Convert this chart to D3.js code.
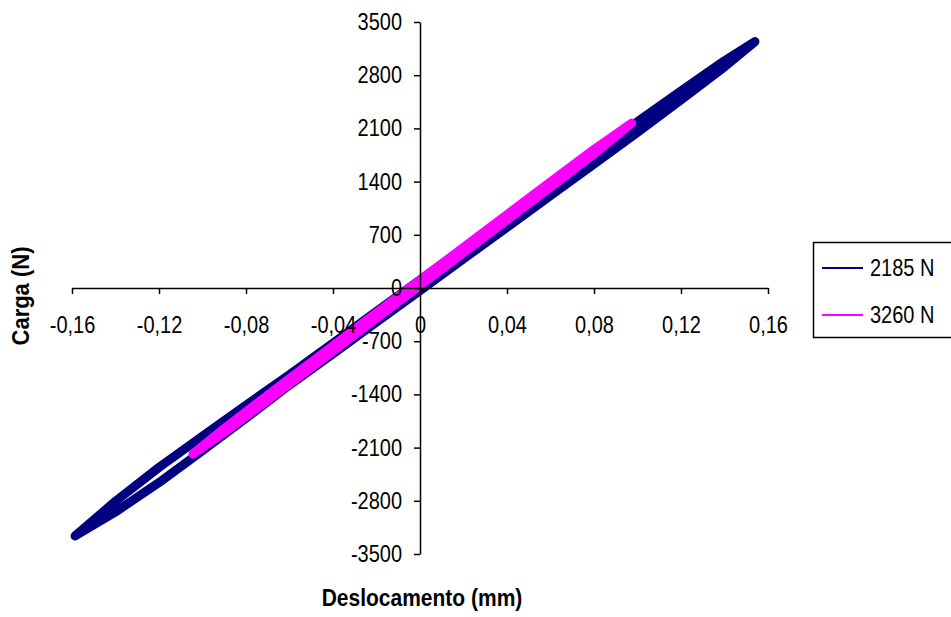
<!DOCTYPE html>
<html>
<head>
<meta charset="utf-8">
<script src="https://cdn.jsdelivr.net/npm/d3@7"></script>
<style>
  body { margin: 0; background: #fff; }
  text { font-family: "Liberation Sans", Arial, sans-serif; }
</style>
</head>
<body>
<div id="chart"></div>
<script>
// tick values
var xTicks = [-0.16, -0.12, -0.08, -0.04, 0, 0.04, 0.08, 0.12, 0.16];
var yTicks = [-3500, -2800, -2100, -1400, -700, 0, 700, 1400, 2100, 2800, 3500];

// series names
var seriesNames = ["2185 N", "3260 N"];

// loop 2185 N : displacement (mm) and load (N), lower branch then upper branch back
var disp2185 = [-0.1586, -0.14, -0.12, -0.10, -0.08, -0.06, -0.04, -0.02, 0, 0.02, 0.04, 0.06, 0.08, 0.10, 0.12, 0.14, 0.154,
  0.14, 0.12, 0.10, 0.08, 0.06, 0.04, 0.02, 0, -0.02, -0.04, -0.06, -0.08, -0.10, -0.12, -0.14, -0.1586];
var load2185 = [-3263, -2946, -2560, -2139, -1712, -1276, -865, -449, -33, 383, 799, 1215, 1631, 2048, 2474, 2910, 3241,
  2990, 2594, 2188, 1771, 1355, 939, 523, 107, -309, -725, -1141, -1542, -1949, -2360, -2806, -3263];

// loop 3260 N
var disp3260 = [-0.1044, -0.09, -0.08, -0.06, -0.04, -0.02, 0, 0.02, 0.04, 0.06, 0.08, 0.0973,
  0.08, 0.06, 0.04, 0.02, 0, -0.02, -0.04, -0.06, -0.08, -0.09, -0.1044];
var load3260 = [-2184, -1898, -1688, -1261, -830, -398, 33, 464, 896, 1327, 1764, 2167,
  1824, 1397, 966, 534, 103, -328, -760, -1191, -1628, -1848, -2184];

var colors = ["#000080", "#ff00ff"];

// the original type is tall and narrow: stretch text vertically
var K = 1.16;
function stretch(sel, k) {
  sel.each(function () {
    var t = d3.select(this);
    var yy = +t.attr("y") || 0;
    t.attr("y", yy / k).attr("transform", "scale(1," + k + ")");
  });
}

function init() {
  var width = 951, height = 617;

  var svg = d3.select("#chart")
    .append("svg")
    .attr("width", width)
    .attr("height", height);

  var x = d3.scaleLinear().domain([-0.16, 0.16]).range([72, 768]);
  var y = d3.scaleLinear().domain([-3500, 3500]).range([554, 22]);

  // series
  var series = [
    d3.zip(disp2185, load2185),
    d3.zip(disp3260, load3260)
  ];
  var line = d3.line()
    .x(function (d) { return x(d[0]); })
    .y(function (d) { return y(d[1]); });

  svg.append("g")
    .selectAll("path")
    .data(series)
    .enter()
    .append("path")
    .attr("d", line)
    .attr("fill", "none")
    .attr("stroke", function (d, i) { return colors[i]; })
    .attr("stroke-width", 9)
    .attr("stroke-linejoin", "round")
    .attr("stroke-linecap", "round");

  // number formats with comma decimal and plain hyphen
  function fmtX(d) {
    if (d === 0) return "0";
    return d3.format(".2f")(d).replace(".", ",").replace("\u2212", "-");
  }
  function fmtY(d) {
    return String(d);
  }

  // X axis through y = 0
  var gx = svg.append("g")
    .attr("transform", "translate(0," + y(0) + ")")
    .call(d3.axisBottom(x).tickValues(xTicks).tickFormat(fmtX).tickSize(6).tickSizeOuter(0));
  gx.selectAll("text").attr("dy", null).attr("y", 45).attr("font-size", 20).attr("fill", "#000");
  stretch(gx.selectAll("text"), K);

  // Y axis through x = 0
  var gy = svg.append("g")
    .attr("transform", "translate(" + x(0) + ",0)")
    .call(d3.axisLeft(y).tickValues(yTicks).tickFormat(fmtY).tickSize(6).tickSizeOuter(0).tickPadding(12));
  gy.selectAll("text").attr("font-size", 20).attr("fill", "#000");
  stretch(gy.selectAll("text"), K);

  svg.selectAll(".domain, .tick line").attr("stroke", "#000").attr("stroke-width", 1.5);
  svg.selectAll("g[font-family]").attr("font-family", null);

  // axis titles
  svg.append("text")
    .attr("transform", "translate(422,606) scale(1,1.1)")
    .attr("text-anchor", "middle")
    .attr("font-size", 21)
    .attr("font-weight", "bold")
    .text("Deslocamento (mm)");

  svg.append("text")
    .attr("transform", "translate(29,296) rotate(-90) scale(1,1.1)")
    .attr("text-anchor", "middle")
    .attr("font-size", 22)
    .attr("font-weight", "bold")
    .text("Carga (N)");

  // legend
  var legend = svg.append("g");
  legend.append("rect")
    .attr("x", 813.5).attr("y", 242.5)
    .attr("width", 150).attr("height", 95)
    .attr("fill", "#fff").attr("stroke", "#000").attr("stroke-width", 1.5);

  var item = legend.selectAll(".item")
    .data(seriesNames)
    .enter()
    .append("g")
    .attr("transform", function (d, i) { return "translate(0," + (268 + i * 47) + ")"; });
  item.append("line")
    .attr("x1", 822).attr("x2", 863)
    .attr("stroke", function (d, i) { return colors[i]; })
    .attr("stroke-width", 2);
  item.append("text")
    .attr("x", 870)
    .attr("dy", "0.36em")
    .attr("font-size", 20)
    .text(function (d) { return d; });
  stretch(item.selectAll("text"), K);
}
window.onload = init;
</script>
</body>
</html>
